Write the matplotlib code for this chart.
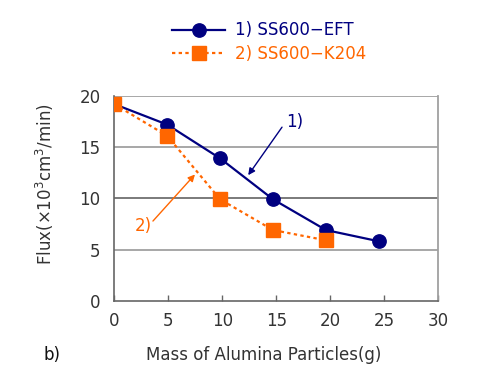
import matplotlib
matplotlib.use("Agg")
import matplotlib.pyplot as plt
from matplotlib.lines import Line2D

plt.rcParams['font.family'] = ['DejaVu Sans']

mass1 = [0, 4.9, 9.8, 14.7, 19.6, 24.5]
flux1 = [19.2, 17.2, 13.9, 9.9, 6.9, 5.8]
mass2 = [0, 4.9, 9.8, 14.7, 19.6]
flux2 = [19.2, 16.1, 9.9, 6.9, 5.9]
xticks = [0, 5, 10, 15, 20, 25, 30]
yticks = [0, 5, 10, 15, 20]
label1 = "1) SS600\u2212EFT"
label2 = "2) SS600\u2212K204"

navy = "#000080"
orange = "#FF6600"
txtc = "#333333"

fig = plt.figure(figsize=(4.8, 3.9), dpi=100)
ax = fig.add_axes([0.2381, 0.229, 0.675, 0.525])

for y in yticks[1:]:
    ax.axhline(y, color="#a0a0a0" if y != 10 else "#707070", lw=1.3, zorder=0)

ax.plot(mass1, flux1, color=navy, lw=1.6, marker="o", ms=9.6, zorder=3)
ax.plot(mass2, flux2, color=orange, lw=1.6, ls=(0, (1.5, 1.5)), marker="s", ms=10,
        markeredgecolor=orange, zorder=4)

ax.set_xlim(0, 30)
ax.set_ylim(0, 20)
ax.set_xticks(xticks)
ax.set_yticks(yticks)
ax.tick_params(axis='x', direction='in', length=4, color="#666666", width=1,
               labelsize=12, labelcolor=txtc, pad=8)
ax.tick_params(axis='y', length=0, labelsize=12, labelcolor=txtc, pad=10)
for s in ["left", "bottom"]:
    ax.spines[s].set_color("#666666")
    ax.spines[s].set_linewidth(1.2)
for s in ["top", "right"]:
    ax.spines[s].set_visible(False)
ax.plot([1, 1], [0, 1], transform=ax.transAxes, color="#a0a0a0", lw=1.3, clip_on=False)

fig.text(0.094, 0.528, "Flux(\u00d710$^3$cm$^3$/min)", fontsize=12, color=txtc,
         rotation=90, ha="center", va="center")
fig.text(0.55, 0.09, "Mass of Alumina Particles(g)", fontsize=12, color=txtc,
         ha="center", va="center")
fig.text(0.09, 0.09, "b)", fontsize=12, color="#111111", ha="left", va="center")

ax.text(15.9, 17.5, "1)", color=navy, fontsize=12, ha="left", va="center")
ax.annotate("", xy=(12.4, 12.26), xytext=(15.53, 16.95),
            arrowprops=dict(arrowstyle="-|>", color=navy, lw=1, shrinkA=0, shrinkB=0,
                            mutation_scale=10))
ax.text(2.7, 7.3, "2)", color=orange, fontsize=12, ha="center", va="center")
ax.annotate("", xy=(7.47, 12.33), xytext=(3.58, 7.78),
            arrowprops=dict(arrowstyle="-|>", color=orange, lw=1, shrinkA=0, shrinkB=0,
                            mutation_scale=10))

h1 = Line2D([], [], color=navy, lw=1.6, marker="o", ms=9.6)
h2 = Line2D([], [], color=orange, lw=1.6, ls=(0, (1.5, 1.5)), marker="s", ms=10)
leg = fig.legend([h1, h2], [label1, label2], loc="upper left",
                 bbox_to_anchor=(172 / 480, 0.945), borderpad=0, borderaxespad=0,
                 frameon=False, fontsize=12, handlelength=3.2, handletextpad=0.6,
                 labelspacing=0.35)
for t, c in zip(leg.get_texts(), [navy, orange]):
    t.set_color(c)

fig.savefig("out.png", dpi=100)
